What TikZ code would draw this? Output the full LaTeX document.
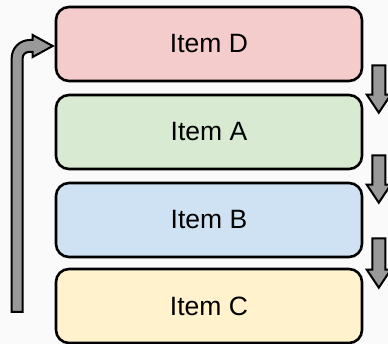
\documentclass[tikz,border=0pt]{standalone}
\usepackage{fontspec}
\setmainfont{Liberation Sans}
\usetikzlibrary{calc}
\definecolor{pinkfill}{HTML}{F4CCCC}
\definecolor{greenfill}{HTML}{D9EAD3}
\definecolor{bluefill}{HTML}{CFE2F3}
\definecolor{yellowfill}{HTML}{FFF2CC}
\definecolor{arrowgray}{HTML}{999999}
\definecolor{paper}{HTML}{FAFAFA}
\begin{document}
\begin{tikzpicture}[x=1pt,y=1pt,
  itembox/.style={draw=black, line width=2.6pt, rounded corners=13pt,
    minimum width=306pt, minimum height=74pt, inner sep=0pt,
    font=\fontsize{26.5}{30}\selectfont},
  blockarrow/.style={draw=black, fill=arrowgray, line width=2pt, line join=miter}]
  \fill[paper] (0,0) rectangle (388,-344);
  \useasboundingbox (0,0) rectangle (388,-344);

  \node[itembox, fill=pinkfill]   (D) at (209,-44)  {Item D};
  \node[itembox, fill=greenfill]  (A) at (209,-132) {Item A};
  \node[itembox, fill=bluefill]   (B) at (209,-220) {Item B};
  \node[itembox, fill=yellowfill] (C) at (209,-306) {Item C};

  % block arrows pointing down, to the right of each gap
  \foreach \top/\bot/\t/\b in {D/A/17/19, A/B/15/21, B/C/20/20} {
    \coordinate (s) at ($(\top.south east)+(15.5,\t)$);
    \coordinate (e) at ($(\bot.north east)+(15.5,-\b)$);
    \draw[blockarrow] ($(s)+(-6.5,0)$) -- ($(s)+(6.5,0)$)
      -- ($(e)+(6.5,18)$) -- ($(e)+(12,18)$) -- (e)
      -- ($(e)+(-12,18)$) -- ($(e)+(-6.5,18)$) -- cycle;
  }

  % return arrow from the bottom back up to Item D
  \coordinate (tip) at ($(D.west)+(-2,-2)$);
  \draw[blockarrow]
    ($(tip)+(-41,-266)$) -- ($(tip)+(-41,-12)$)
    arc[start angle=180, end angle=90, radius=18] -- ($(tip)+(-20,6)$)
    -- ($(tip)+(-20,11)$) -- (tip) -- ($(tip)+(-20,-11)$)
    -- ($(tip)+(-20,-6)$) -- ($(tip)+(-24,-6)$)
    arc[start angle=90, end angle=180, radius=6] -- ($(tip)+(-30,-266)$) -- cycle;
\end{tikzpicture}
\end{document}
